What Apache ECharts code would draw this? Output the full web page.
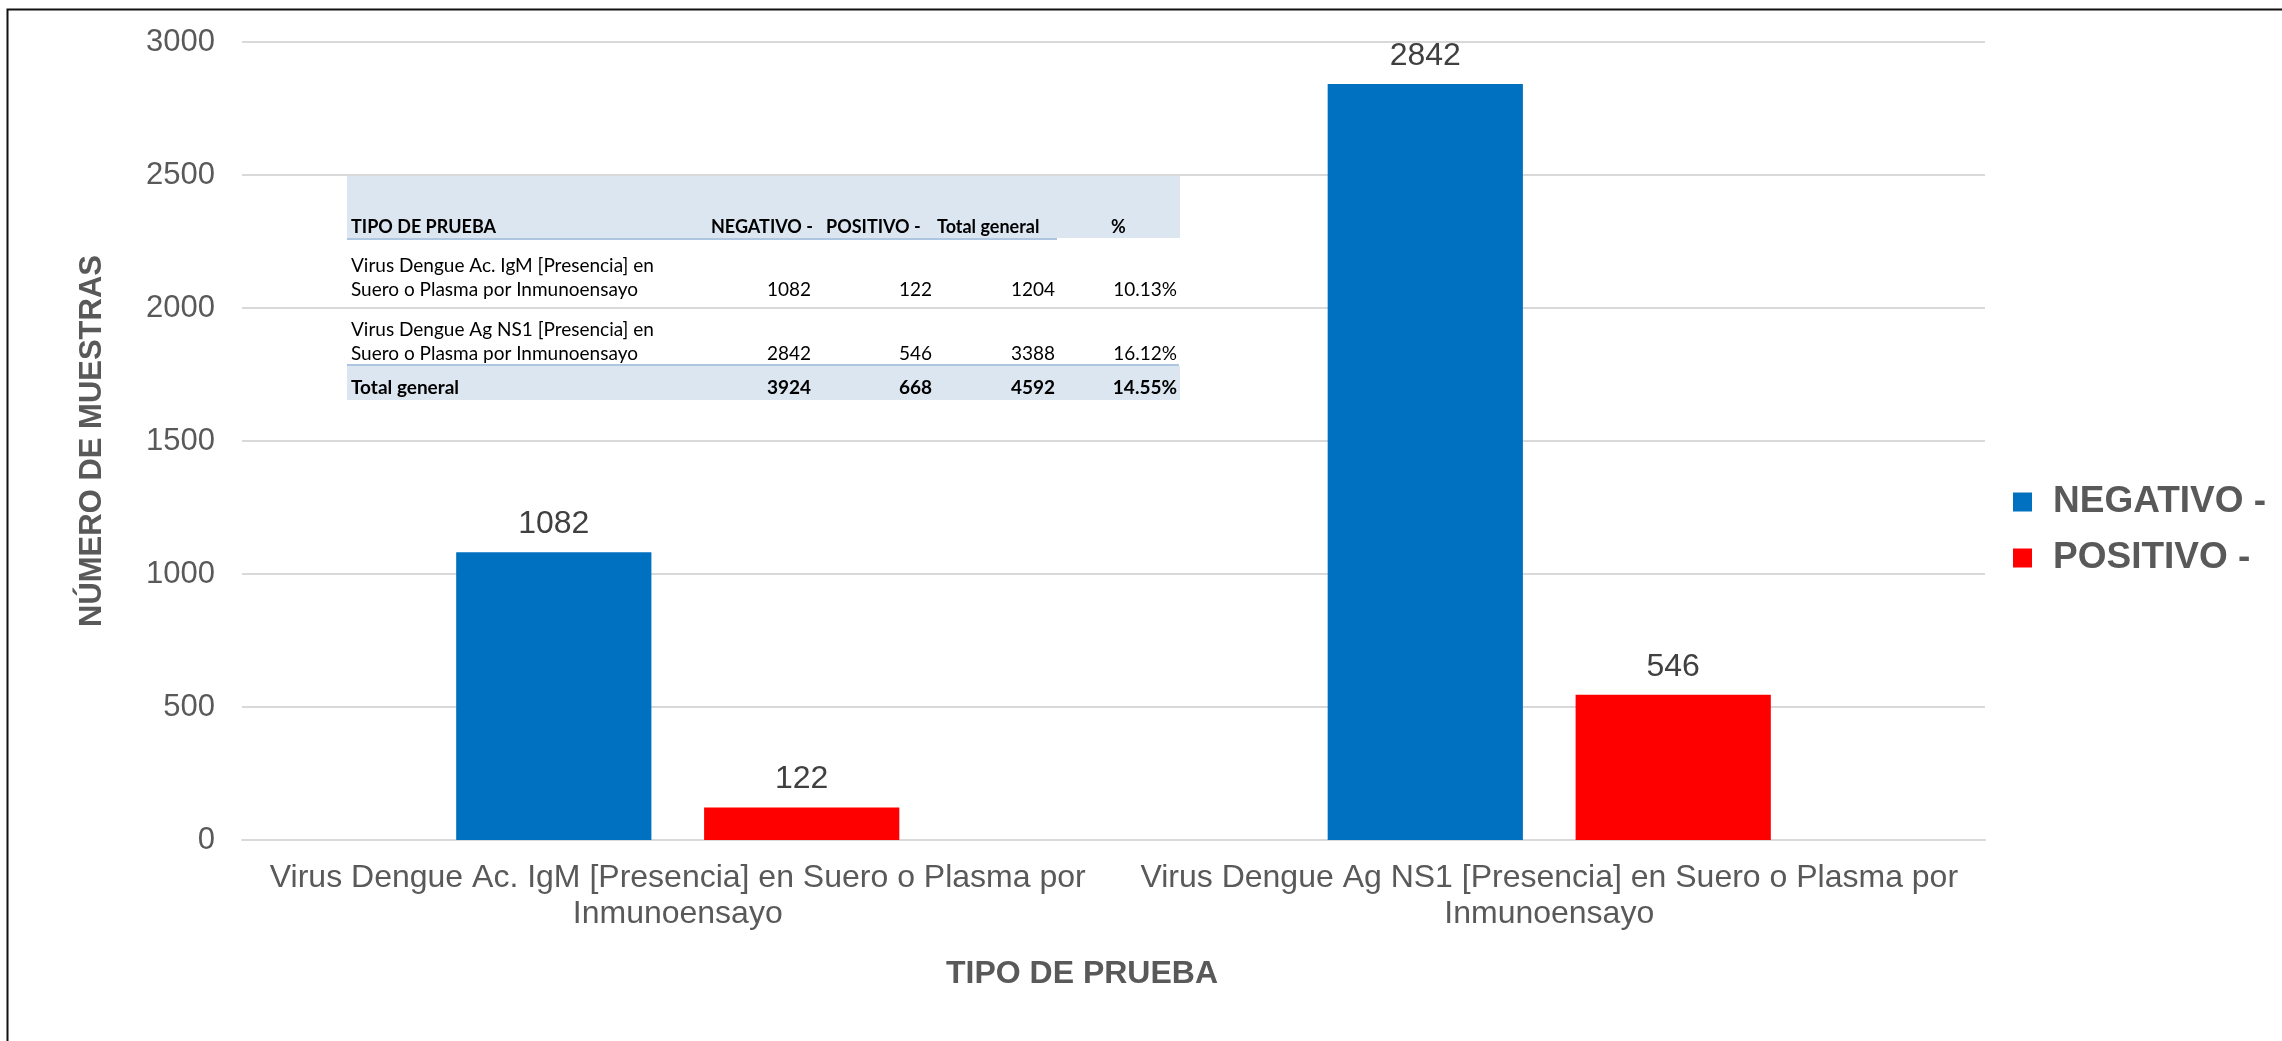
<!DOCTYPE html>
<html>
<head>
<meta charset="utf-8">
<script src="https://cdn.jsdelivr.net/npm/echarts@6/dist/echarts.min.js"></script>
<style>
  html, body { margin: 0; padding: 0; background: #fff; }
  #main { width: 2282px; height: 1041px; }
</style>
</head>
<body>
<div id="main"></div>
<script>
// datos
const categories = [
  'Virus Dengue Ac. IgM [Presencia] en Suero o Plasma por Inmunoensayo',
  'Virus Dengue Ag NS1 [Presencia] en Suero o Plasma por Inmunoensayo'
];
const negativo = [1082, 2842];
const positivo = [122, 546];
const yMin = 0, yMax = 3000, yStep = 500;

// tabla incrustada
const tableHead = ['TIPO DE PRUEBA', 'NEGATIVO -', 'POSITIVO -', 'Total general', '%'];
const tableRowLines = [
  ['Virus Dengue Ac. IgM [Presencia] en', 'Suero o Plasma por Inmunoensayo'],
  ['Virus Dengue Ag NS1 [Presencia] en', 'Suero o Plasma por Inmunoensayo']
];
const totalLabel = 'Total general';

const GRAY = '#595959';
const FONT = '"Liberation Sans", Arial, sans-serif';
const TFONT = 'Lato, "Open Sans", sans-serif';
const TSIZE = 19;
const HSIZE = 18;

function pct(p, t) { return (p / t * 100).toFixed(2) + '%'; }

function buildTable() {
  const els = [];
  const colRight = [811, 932, 1055, 1177];
  const headX = [351, 711, 826, 937, 1111];
  // fondos
  els.push({ type: 'rect', shape: { x: 347, y: 176, width: 833, height: 62 }, style: { fill: '#dce6f1' }, z: 50 });
  els.push({ type: 'rect', shape: { x: 347, y: 366, width: 833, height: 34 }, style: { fill: '#dce6f1' }, z: 50 });
  els.push({ type: 'line', shape: { x1: 347, y1: 239, x2: 1057, y2: 239 }, style: { stroke: '#95b3d7', lineWidth: 1.5 }, z: 51 });
  els.push({ type: 'line', shape: { x1: 347, y1: 365, x2: 1179, y2: 365 }, style: { stroke: '#95b3d7', lineWidth: 1.5 }, z: 51 });
  tableHead.forEach((h, i) => {
    els.push({ type: 'text', x: headX[i], y: 227, z: 52,
      style: { text: h, fill: '#000', font: 'bold ' + HSIZE + 'px ' + TFONT, align: 'left', verticalAlign: 'middle' } });
  });
  const rowY = [[266, 290], [330, 354]];
  let sn = 0, sp = 0;
  tableRowLines.forEach((lines, r) => {
    lines.forEach((ln, k) => {
      els.push({ type: 'text', x: 351, y: rowY[r][k], z: 52,
        style: { text: ln, fill: '#000', font: TSIZE + 'px ' + TFONT, align: 'left', verticalAlign: 'middle' } });
    });
    const tot = negativo[r] + positivo[r];
    sn += negativo[r]; sp += positivo[r];
    [negativo[r], positivo[r], tot, pct(positivo[r], tot)].forEach((v, c) => {
      els.push({ type: 'text', x: colRight[c], y: rowY[r][1], z: 52,
        style: { text: String(v), fill: '#000', font: TSIZE + 'px ' + TFONT, align: 'right', verticalAlign: 'middle' } });
    });
  });
  els.push({ type: 'text', x: 351, y: 388, z: 52,
    style: { text: totalLabel, fill: '#000', font: 'bold ' + TSIZE + 'px ' + TFONT, align: 'left', verticalAlign: 'middle' } });
  [sn, sp, sn + sp, pct(sp, sn + sp)].forEach((v, c) => {
    els.push({ type: 'text', x: colRight[c], y: 388, z: 52,
      style: { text: String(v), fill: '#000', font: 'bold ' + TSIZE + 'px ' + TFONT, align: 'right', verticalAlign: 'middle' } });
  });
  // marco del grafico (solo arriba e izquierda)
  els.push({ type: 'polyline', shape: { points: [[7.5, 1041], [7.5, 9.5], [2282, 9.5]] },
    style: { stroke: '#111', lineWidth: 2, fill: null }, z: 60 });
  return els;
}

const chart = echarts.init(document.getElementById('main'));
const option = {
  backgroundColor: '#fff',
  textStyle: { fontFamily: FONT },
  animation: false,
  grid: { left: 242, right: 297, top: 42, bottom: 201, containLabel: false, outerBoundsMode: 'none' },
  legend: {
    orient: 'vertical',
    left: 2008,
    top: 477,
    itemWidth: 19,
    itemHeight: 19,
    itemGap: 16,
    icon: 'rect',
    textStyle: { fontSize: 37, fontWeight: 'bold', color: GRAY, fontFamily: FONT, lineHeight: 40, padding: [0, 0, 0, 16] },
    data: ['NEGATIVO -', 'POSITIVO -']
  },
  xAxis: {
    type: 'category',
    data: categories,
    name: 'TIPO DE PRUEBA',
    nameLocation: 'middle',
    nameGap: 118,
    nameTextStyle: { fontSize: 32, fontWeight: 'bold', color: GRAY, fontFamily: FONT, padding: [0, 63, 0, 0] },
    axisLine: { lineStyle: { color: '#d9d9d9', width: 2 } },
    axisTick: { show: false },
    axisLabel: {
      interval: 0,
      margin: 20,
      fontSize: 32,
      lineHeight: 36,
      color: GRAY,
      fontFamily: FONT,
      formatter: v => v.replace(' por ', ' por\n')
    }
  },
  yAxis: {
    type: 'value',
    min: yMin,
    max: yMax,
    interval: yStep,
    name: 'NÚMERO DE MUESTRAS',
    nameLocation: 'middle',
    nameGap: 134,
    nameTextStyle: { fontSize: 31, fontWeight: 'bold', color: GRAY, fontFamily: FONT },
    axisLine: { show: false },
    axisTick: { show: false },
    axisLabel: { fontSize: 31, color: GRAY, margin: 27, fontFamily: FONT, formatter: v => String(v) },
    splitLine: { lineStyle: { color: '#d9d9d9', width: 2 } }
  },
  series: [
    {
      name: 'NEGATIVO -',
      type: 'bar',
      data: negativo,
      barWidth: '22.4%',
      barGap: '27%',
      itemStyle: { color: '#0070c0' },
      label: { show: true, position: 'top', distance: 12, fontSize: 32, color: '#404040', fontFamily: FONT }
    },
    {
      name: 'POSITIVO -',
      type: 'bar',
      data: positivo,
      barWidth: '22.4%',
      barGap: '27%',
      itemStyle: { color: '#ff0000' },
      label: { show: true, position: 'top', distance: 12, fontSize: 32, color: '#404040', fontFamily: FONT }
    }
  ],
  graphic: buildTable()
};
chart.setOption(option);
</script>
</body>
</html>
